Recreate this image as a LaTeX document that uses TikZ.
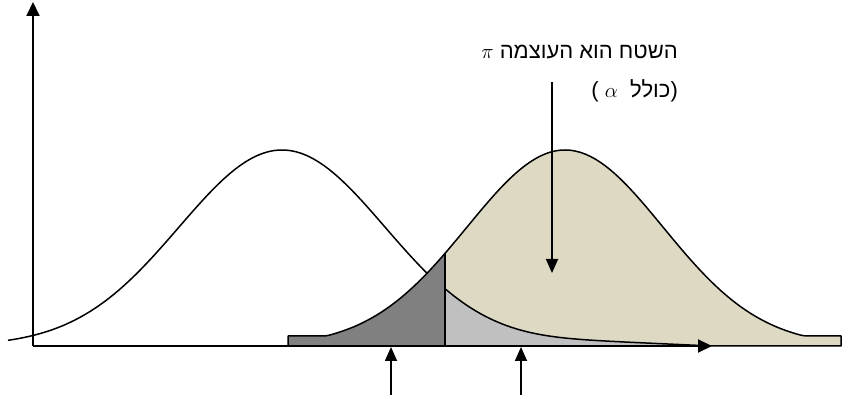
\documentclass[tikz,border=0pt]{standalone}
\usepackage{fontspec}
\setmainfont{Liberation Sans}
\newfontfamily\hebfont[Script=Hebrew]{Liberation Sans}
\TeXXeTstate=1
\usetikzlibrary{arrows.meta}
\definecolor{cBeige}{HTML}{DDD9C3}
\definecolor{cDark}{HTML}{808080}
\definecolor{cLight}{HTML}{C0C0C0}
\tikzset{
  axis/.style ={line width=2pt, -{Triangle[length=14pt,width=13pt]}},
  curve/.style={line width=1.5pt, line join=round},
  ptr/.style  ={line width=1.8pt, -{Triangle[length=14pt,width=12pt]}},
  lbl/.style  ={anchor=east, inner sep=0pt, font=\hebfont\fontsize{22}{26}\selectfont},
}
\begin{document}
\begin{tikzpicture}[x=1pt,y=-1pt,
    declare function={h0(\x)=196*exp(-((\x-282)/103)^2/2);
                      t0(\x)=sqrt(h0(\x)^2+(12*(712-\x)/267)^2);
                      h1(\x)=max(196*exp(-((\x-565)/98)^2/2),10);}]
  \useasboundingbox (0,0) rectangle (844,395);
  % key points
  \coordinate (origin) at (33,346);
  \coordinate (yEnd) at (33,2);
  \coordinate (xEnd) at (712,346);
  \coordinate (crit) at (445,346);
  \coordinate (critTop) at (445,{346-h1(445)});
  % null curve (white)
  \draw[curve] plot[domain=8:445, samples=80] (\x,{346-h0(\x)});
  % alternative curve, right part
  \filldraw[fill=cBeige, curve] (crit) -- plot[domain=445:841, samples=80] (\x,{346-h1(\x)}) -- (841,346) -- cycle;
  % alpha region
  \fill[cLight] (crit) -- plot[domain=445:712, samples=60] (\x,{346-t0(\x)}) -- cycle;
  \draw[curve] plot[domain=445:705, samples=60] (\x,{346-t0(\x)});
  % beta region
  \filldraw[fill=cDark, curve] (288,346) -- plot[domain=288:445, samples=40] (\x,{346-h1(\x)}) -- (crit) -- cycle;
  \draw[line width=2.5pt] (crit) -- (critTop);
  % axes
  \draw[axis] (origin) -- (yEnd);
  \draw[axis] (origin) -- (xEnd);
  % label
  \node[lbl] (powerA) at (678,52) {\beginR השטח הוא העוצמה $\pi$\endR};
  \node[lbl] (powerB) at (678,91) {\beginR(כולל\ \ $\alpha$ )\endR};
  \coordinate (piTop) at (552,82);
  \coordinate (piTip) at (552,273);
  \draw[ptr] (piTop) -- (piTip);
  % marks under the axis
  \coordinate (markA) at (391,395);
  \coordinate (markAtip) at (391,347);
  \coordinate (markB) at (521,395);
  \coordinate (markBtip) at (521,347);
  \draw[ptr] (markA) -- (markAtip);
  \draw[ptr] (markB) -- (markBtip);
\end{tikzpicture}
\end{document}
